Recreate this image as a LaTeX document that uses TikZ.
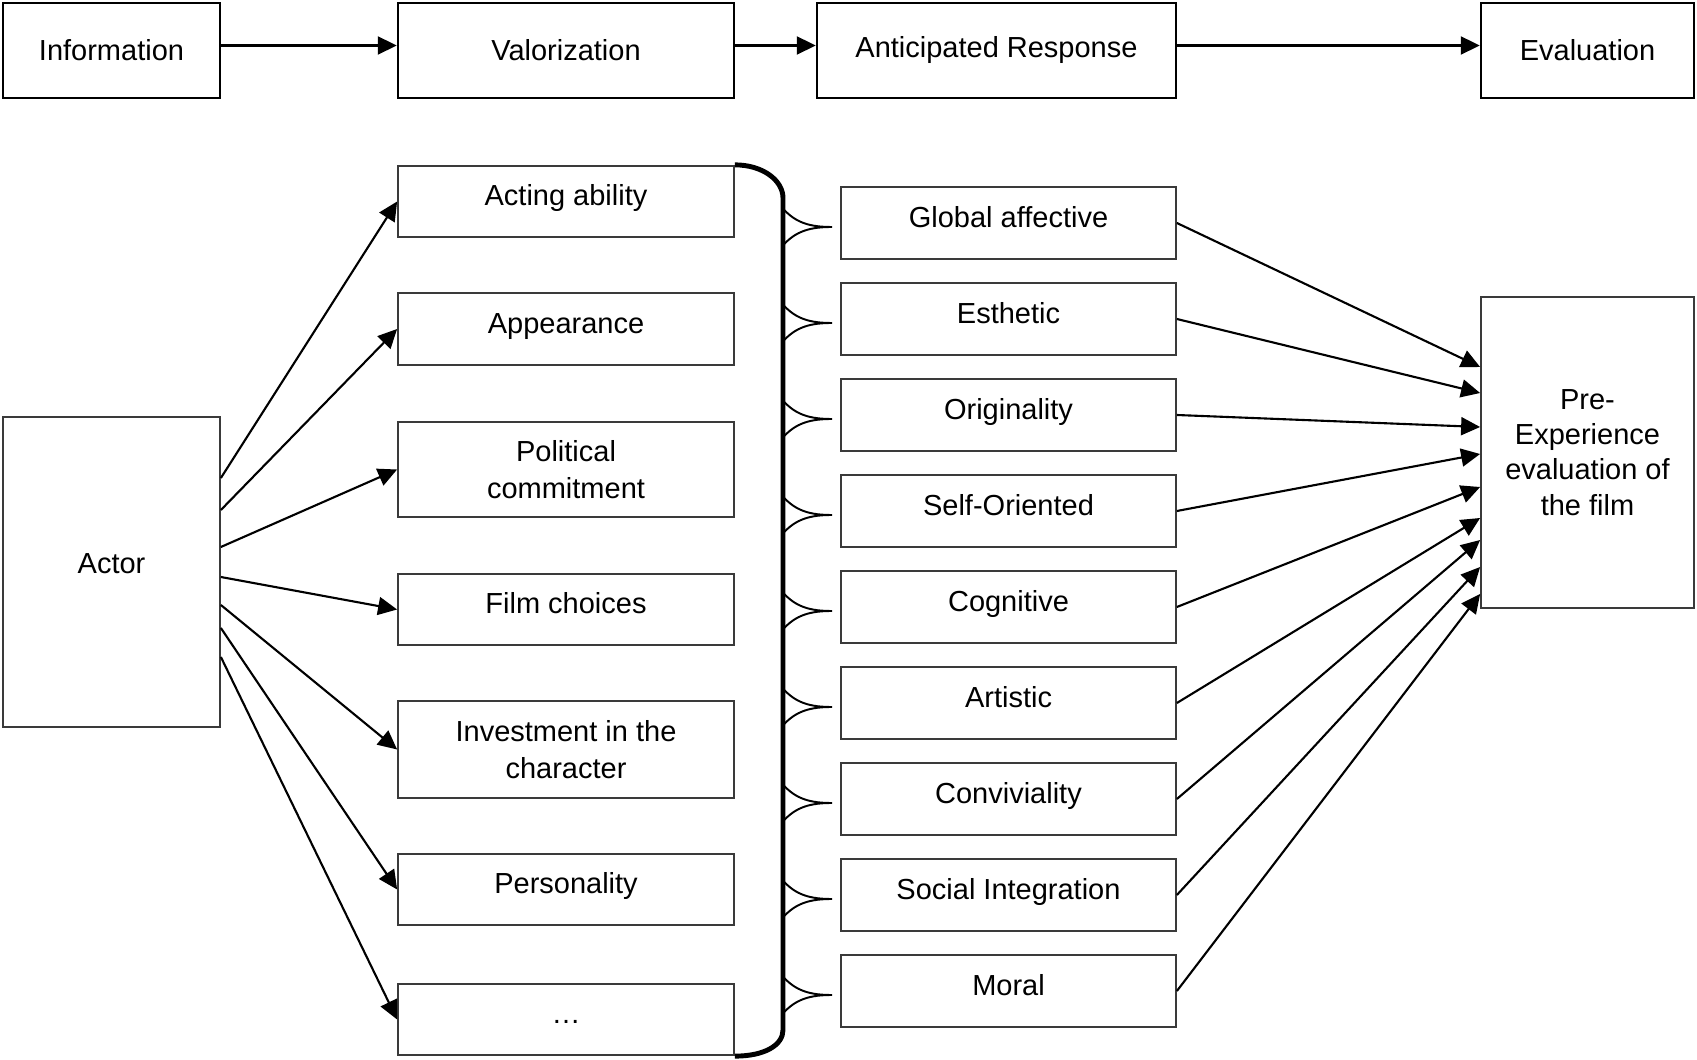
\documentclass[tikz,border=0pt]{standalone}
\usepackage{fontspec}
\setmainfont{Liberation Sans}
\usepackage{xcolor}
\definecolor{box-edge}{HTML}{3A3A3A}
\usetikzlibrary{arrows.meta}

\begin{document}
\begin{tikzpicture}[
    box/.style={draw=box-edge, line width=1pt, minimum width=6.72cm, minimum height=1.43cm,
                align=center, inner sep=2pt, font=\fontsize{16.5}{21}\selectfont},
    stage/.style={box, draw=black, line width=1.4pt, minimum height=1.9cm},
    lifted/.style={text height=0.46cm, text depth=0.285cm},
    link/.style={-{Triangle[length=0.38cm, width=0.36cm]}, line width=1.2pt},
    cusp/.style={line width=1.1pt}]
    \useasboundingbox (0,0) rectangle (33.94,-21.2);

    % stages
    \node[stage, minimum width=4.34cm] (info) at (2.23,-1.01) {Information};
    \node[stage] (valor) at (11.32,-1.01) {Valorization};
    \node[stage, minimum width=7.18cm] (anticip) at (19.93,-1.01) {Anticipated Response};
    \node[stage, minimum width=4.26cm] (evalu) at (31.75,-1.01) {Evaluation};
    \draw[link] ([yshift=0.1cm]info.east) -- ([yshift=0.1cm]valor.west);
    \draw[link] ([yshift=0.1cm]valor.east) -- ([yshift=0.1cm]anticip.west);
    \draw[link] ([yshift=0.1cm]anticip.east) -- ([yshift=0.1cm]evalu.west);

    % actor and its attributes
    \node[box, minimum width=4.34cm, minimum height=6.2cm, text height=0.46cm, text depth=0.4cm]
      (actor) at (2.23,-11.44) {Actor};
    \node[box, lifted] (acting) at (11.32,-4.03) {Acting ability};
    \node[box, lifted] (appear) at (11.32,-6.58) {Appearance};
    \node[box, minimum height=1.9cm] (politic) at (11.32,-9.39) {Political\\commitment};
    \node[box, lifted] (choices) at (11.32,-12.19) {Film choices};
    \node[box, minimum height=1.94cm] (invest) at (11.32,-14.99) {Investment in the\\character};
    \node[box, lifted] (person) at (11.32,-17.79) {Personality};
    \node[box, lifted] (etc) at (11.32,-20.39) {…};
    \draw[link] ([yshift=1.88cm]actor.east) -- (acting.west);
    \draw[link] ([yshift=1.24cm]actor.east) -- (appear.west);
    \draw[link] ([yshift=0.50cm]actor.east) -- (politic.west);
    \draw[link] ([yshift=-0.10cm]actor.east) -- (choices.west);
    \draw[link] ([yshift=-0.66cm]actor.east) -- (invest.west);
    \draw[link] ([yshift=-1.12cm]actor.east) -- (person.west);
    \draw[link] ([yshift=-1.70cm]actor.east) -- (etc.west);

    % responses
    \node[box, lifted, minimum width=6.70cm, minimum height=1.44cm] (global) at (20.17,-4.46) {Global affective};
    \node[box, lifted, minimum width=6.70cm, minimum height=1.44cm] (esthetic) at (20.17,-6.38) {Esthetic};
    \node[box, lifted, minimum width=6.70cm, minimum height=1.44cm] (original) at (20.17,-8.30) {Originality};
    \node[box, lifted, minimum width=6.70cm, minimum height=1.44cm] (self) at (20.17,-10.22) {Self-Oriented};
    \node[box, lifted, minimum width=6.70cm, minimum height=1.44cm] (cognit) at (20.17,-12.14) {Cognitive};
    \node[box, lifted, minimum width=6.70cm, minimum height=1.44cm] (artist) at (20.17,-14.06) {Artistic};
    \node[box, lifted, minimum width=6.70cm, minimum height=1.44cm] (convivial) at (20.17,-15.98) {Conviviality};
    \node[box, lifted, minimum width=6.70cm, minimum height=1.44cm] (social) at (20.17,-17.90) {Social Integration};
    \node[box, lifted, minimum width=6.70cm, minimum height=1.44cm] (moral) at (20.17,-19.82) {Moral};

    % brace
    \coordinate (spine-top) at (15.66,-3.96);
    \coordinate (spine-bot) at (15.66,-20.6);
    \draw[line width=2.8pt] (acting.north east) .. controls +(0.56,0) and +(0,0.35) .. (spine-top)
      -- (spine-bot) .. controls +(0,-0.3) and +(0.6,0) .. (etc.south east);
    \draw[cusp] ([xshift=-1.16cm, yshift=0.31cm]global.west) to[out=-50, in=180] ([xshift=-0.16cm, yshift=-0.08cm]global.west)
      to[out=180, in=50] ([xshift=-1.16cm, yshift=-0.47cm]global.west);
    \draw[cusp] ([xshift=-1.16cm, yshift=0.31cm]esthetic.west) to[out=-50, in=180] ([xshift=-0.16cm, yshift=-0.08cm]esthetic.west)
      to[out=180, in=50] ([xshift=-1.16cm, yshift=-0.47cm]esthetic.west);
    \draw[cusp] ([xshift=-1.16cm, yshift=0.31cm]original.west) to[out=-50, in=180] ([xshift=-0.16cm, yshift=-0.08cm]original.west)
      to[out=180, in=50] ([xshift=-1.16cm, yshift=-0.47cm]original.west);
    \draw[cusp] ([xshift=-1.16cm, yshift=0.31cm]self.west) to[out=-50, in=180] ([xshift=-0.16cm, yshift=-0.08cm]self.west)
      to[out=180, in=50] ([xshift=-1.16cm, yshift=-0.47cm]self.west);
    \draw[cusp] ([xshift=-1.16cm, yshift=0.31cm]cognit.west) to[out=-50, in=180] ([xshift=-0.16cm, yshift=-0.08cm]cognit.west)
      to[out=180, in=50] ([xshift=-1.16cm, yshift=-0.47cm]cognit.west);
    \draw[cusp] ([xshift=-1.16cm, yshift=0.31cm]artist.west) to[out=-50, in=180] ([xshift=-0.16cm, yshift=-0.08cm]artist.west)
      to[out=180, in=50] ([xshift=-1.16cm, yshift=-0.47cm]artist.west);
    \draw[cusp] ([xshift=-1.16cm, yshift=0.31cm]convivial.west) to[out=-50, in=180] ([xshift=-0.16cm, yshift=-0.08cm]convivial.west)
      to[out=180, in=50] ([xshift=-1.16cm, yshift=-0.47cm]convivial.west);
    \draw[cusp] ([xshift=-1.16cm, yshift=0.31cm]social.west) to[out=-50, in=180] ([xshift=-0.16cm, yshift=-0.08cm]social.west)
      to[out=180, in=50] ([xshift=-1.16cm, yshift=-0.47cm]social.west);
    \draw[cusp] ([xshift=-1.16cm, yshift=0.31cm]moral.west) to[out=-50, in=180] ([xshift=-0.16cm, yshift=-0.08cm]moral.west)
      to[out=180, in=50] ([xshift=-1.16cm, yshift=-0.47cm]moral.west);

    % evaluation
    \node[box, minimum width=4.26cm, minimum height=6.22cm, font=\fontsize{16.5}{20}\selectfont] (preexp)
      at (31.75,-9.05) {Pre-\\Experience\\evaluation of\\the film};
    \draw[link] (global.east) -- ([yshift=1.71cm]preexp.west);
    \draw[link] (esthetic.east) -- ([yshift=1.19cm]preexp.west);
    \draw[link] (original.east) -- ([yshift=0.51cm]preexp.west);
    \draw[link] (self.east) -- ([yshift=-0.03cm]preexp.west);
    \draw[link] (cognit.east) -- ([yshift=-0.69cm]preexp.west);
    \draw[link] (artist.east) -- ([yshift=-1.31cm]preexp.west);
    \draw[link] (convivial.east) -- ([yshift=-1.75cm]preexp.west);
    \draw[link] (social.east) -- ([yshift=-2.29cm]preexp.west);
    \draw[link] (moral.east) -- ([yshift=-2.83cm]preexp.west);
\end{tikzpicture}
\end{document}
